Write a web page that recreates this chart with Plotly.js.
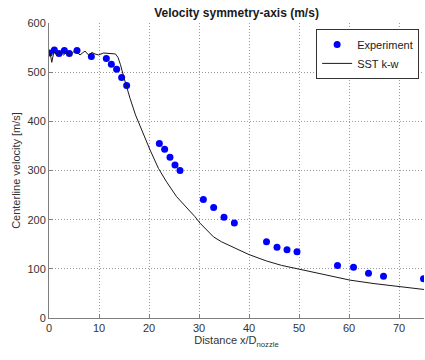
<!DOCTYPE html>
<html>
<head>
<meta charset="utf-8">
<script src="https://cdn.plot.ly/plotly-3.0.1.min.js"></script>
<style>html,body{margin:0;padding:0;background:#fff;}#chart{width:425px;height:360px;}</style>
</head>
<body>
<div id="chart"></div>
<script>
// Experiment data
var expX = [0.07, 1.07, 2.0, 3.07, 4.07, 5.6, 8.47, 11.47, 12.47, 13.53, 14.53, 15.53,
            22.07, 23.13, 24.2, 25.2, 26.2, 30.87, 32.93, 35.0, 37.07,
            43.5, 45.6, 47.6, 49.6, 57.7, 60.9, 63.9, 66.9, 74.9];
var expY = [539, 545, 538, 544, 538, 544, 532, 528, 516, 506, 489, 473,
            355, 343, 327, 311, 300, 241, 225, 205, 193,
            155, 144, 139, 135, 107, 103, 91, 85, 80];

// SST k-w simulation
var simX = [0, 0.25, 0.55, 1.0, 1.5, 2.2, 2.9, 3.5, 4.2, 5.2, 6.2, 7.2, 7.9, 8.6, 9.2, 9.9, 10.9, 12.5, 13.3, 13.8, 14.3, 14.9, 15.5, 16.2, 17.3, 18.5, 20.2, 21.9, 23.5, 25.5, 27.5, 29.2, 30.2, 32.9, 34.5, 36.9, 40, 43.5, 46.5, 50.2, 55, 60.2, 65, 70.2, 75];
var simY = [540, 538, 520, 542, 535, 542, 535, 540, 534, 544, 535, 543, 535, 540, 537, 535, 539, 538, 537, 530, 515, 492, 470, 447, 413, 383, 342, 304, 277, 247, 225, 206, 193, 165, 155, 143, 129, 116, 107, 99, 88, 77, 70, 64, 58];

var xTicks = [0, 10, 20, 30, 40, 50, 60, 70];
var yTicks = [0, 100, 200, 300, 400, 500, 600];

var FONT = 'Liberation Sans, Arial, sans-serif';

var traces = [
  {x: expX, y: expY, type: 'scatter', mode: 'markers', name: 'Experiment',
   marker: {color: '#0000ff', size: 7}},
  {x: simX, y: simY, type: 'scatter', mode: 'lines', name: 'SST k-w',
   line: {color: '#1a1a1a', width: 1}}
];

var axisCommon = {
  showgrid: true, gridcolor: '#9a9a9a', griddash: '1px,2px', gridwidth: 1,
  showline: true, linecolor: '#7f7f7f', linewidth: 1,
  ticks: 'inside', ticklen: 4, tickcolor: '#7f7f7f',
  zeroline: false, mirror: false,
  tickfont: {family: FONT, size: 11, color: '#333333'}
};

var layout = {
  width: 425, height: 360,
  margin: {l: 49, r: 1, t: 23, b: 42},
  paper_bgcolor: '#ffffff', plot_bgcolor: '#ffffff',
  font: {family: FONT, size: 11, color: '#333333'},
  title: {text: '<b>Velocity symmetry-axis (m/s)</b>', x: 0.5565, xanchor: 'center', y: 0.975, yanchor: 'top',
          font: {family: FONT, size: 12, color: '#1a1a1a'}},
  xaxis: Object.assign({}, axisCommon, {
    range: [0, 75], tickvals: xTicks, ticktext: xTicks.map(String),
    title: {text: 'Distance x/D<sub>nozzle</sub>', font: {family: FONT, size: 11, color: '#333333'}, standoff: 0}
  }),
  yaxis: Object.assign({}, axisCommon, {
    range: [0, 600], tickvals: yTicks, ticktext: yTicks.map(String),
    title: {text: 'Centerline velocity [m/s]', font: {family: FONT, size: 11, color: '#333333'}, standoff: 4}
  }),
  showlegend: true,
  legend: {x: 0.987, xanchor: 'right', y: 0.98, yanchor: 'top',
           bgcolor: '#ffffff', bordercolor: '#333333', borderwidth: 1,
           font: {family: FONT, size: 11, color: '#1a1a1a'},
           tracegroupgap: 0, itemwidth: 30}
};

Plotly.newPlot('chart', traces, layout, {displayModeBar: false, staticPlot: true});
</script>
</body>
</html>
